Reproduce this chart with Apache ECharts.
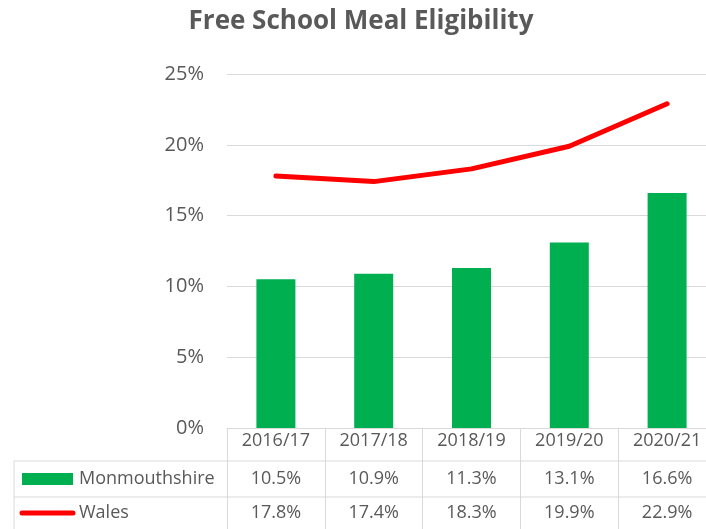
<!DOCTYPE html>
<html>
<head>
<meta charset="utf-8">
<script src="https://cdn.jsdelivr.net/npm/echarts@6/dist/echarts.min.js"></script>
<style>
  html, body { margin: 0; padding: 0; background: #fff; }
  #chart { width: 706px; height: 529px; }
</style>
</head>
<body>
<div id="chart"></div>
<script>
// data
const years = ["2016/17", "2017/18", "2018/19", "2019/20", "2020/21"];
const monmouthshire = [10.5, 10.9, 11.3, 13.1, 16.6];
const wales = [17.8, 17.4, 18.3, 19.9, 22.9];
const seriesNames = ["Monmouthshire", "Wales"];

const GREEN = "#00B050";
const RED = "#FF0000";
const GRID = "#d9d9d9";
const TEXT = "#595959";
const FONT = "'Open Sans', sans-serif";

const chart = echarts.init(document.getElementById("chart"), null, { renderer: "canvas" });

chart.setOption({
	animation: false,
	title: {
		text: "Free School Meal Eligibility",
		left: 356, top: 4, textAlign: "center",
		textStyle: { fontFamily: FONT, fontSize: 26, fontWeight: "bold", color: TEXT }
	},
	grid: { left: 227, top: 74, width: 489, height: 354, outerBoundsMode: "none", containLabel: false },
	xAxis: {
		type: "category",
		data: years,
		boundaryGap: true,
		axisLine: { lineStyle: { color: GRID, width: 1 } },
		axisTick: { show: true, length: 101, lineStyle: { color: GRID, width: 1 } },
		axisLabel: { margin: 4, fontFamily: FONT, fontSize: 18, color: TEXT }
	},
	yAxis: {
		type: "value",
		min: 0, max: 25, interval: 5,
		axisLine: { show: false },
		axisTick: { show: false },
		splitLine: { lineStyle: { color: GRID, width: 1 } },
		axisLabel: { margin: 23, fontFamily: FONT, fontSize: 20, color: TEXT, formatter: v => v + "%" }
	},
	series: [
		{
			name: seriesNames[0], type: "bar", data: monmouthshire,
			barWidth: 39, itemStyle: { color: GREEN }
		},
		{
			name: seriesNames[1], type: "line", data: wales, z: 5,
			symbol: "none",
			lineStyle: { color: RED, width: 5, cap: "round", join: "round" }
		}
	]
});

/* ── data table under the axis ─────────────────────────── */
const gx = i => chart.convertToPixel({ xAxisIndex: 0 }, i);
const base = chart.convertToPixel({ yAxisIndex: 0 }, 0);
const rowY = [base + 51, base + 85];
const els = [];

const hline = y => ({ type: "line", shape: { x1: 14, y1: y, x2: 720, y2: y }, style: { stroke: GRID, lineWidth: 1 } });
els.push(hline(base + 33), hline(base + 69));
els.push({ type: "line", shape: { x1: 14, y1: base + 33, x2: 14, y2: 540 }, style: { stroke: GRID, lineWidth: 1 } });

// legend keys
els.push({ type: "rect", shape: { x: 22, y: rowY[0] - 6, width: 51, height: 12 }, style: { fill: GREEN } });
els.push({ type: "line", shape: { x1: 22, y1: rowY[1], x2: 73, y2: rowY[1] }, style: { stroke: RED, lineWidth: 5, lineCap: "round" } });

[monmouthshire, wales].forEach((vals, r) => {
	els.push({
		type: "text", x: 79, y: rowY[r],
		style: { text: seriesNames[r], fontFamily: FONT, fontSize: 18, fill: TEXT, verticalAlign: "middle" }
	});
	vals.forEach((v, i) => {
		els.push({
			type: "text", x: gx(i), y: rowY[r],
			style: { text: v.toFixed(1) + "%", fontFamily: FONT, fontSize: 18, fill: TEXT, align: "center", verticalAlign: "middle" }
		});
	});
});

chart.setOption({ graphic: { elements: els } });
</script>
</body>
</html>
